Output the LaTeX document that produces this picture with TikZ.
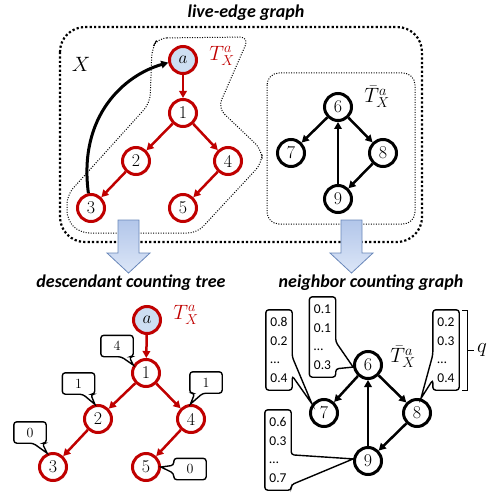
\documentclass[tikz,border=0pt]{standalone}
\usepackage{fontspec}
\newfontfamily\calfont{Carlito}
\usetikzlibrary{arrows.meta,calc,shadows}
\definecolor{myred}{RGB}{192,0,0}
\definecolor{afill}{RGB}{205,222,242}
\definecolor{arrA}{RGB}{178,198,234}
\definecolor{arrB}{RGB}{220,230,247}
\definecolor{arrdraw}{RGB}{105,135,185}
\begin{document}
\begin{tikzpicture}[x=1pt,y=-1pt,
  rnode/.style={circle,draw=myred,line width=3pt,fill=white,minimum size=27pt,inner sep=0pt,
    font=\fontsize{18}{18}\selectfont,
    drop shadow={opacity=0.22,shadow xshift=1.3pt,shadow yshift=-1.3pt}},
  bnode/.style={rnode,draw=black},
  redge/.style={draw=myred,line width=2.5pt,-{Triangle[length=7pt,width=7.5pt]}},
  bedge/.style={draw=black,line width=2.5pt,-{Triangle[length=7pt,width=7.5pt]}},
  titletext/.style={font=\calfont\bfseries\itshape\fontsize{18}{20}\selectfont},
  outerdot/.style={line width=2.2pt,dash pattern=on 2.2pt off 2.2pt},
  innerdot/.style={line width=1pt,dash pattern=on 1pt off 1.5pt},
  blockarrow/.style={draw=arrdraw,line width=0.8pt,top color=arrA,bottom color=arrB},
  cbox/.style={minimum width=32pt,minimum height=21pt,inner sep=0pt,font=\fontsize{14}{14}\selectfont},
  lbox/.style={minimum width=26pt,minimum height=80pt,inner sep=0pt,align=left,
    font=\calfont\fontsize{13.5}{18.5}\selectfont},
  cline/.style={draw=black,line width=1.4pt,rounded corners=3pt},
  lbl/.style={font=\fontsize{22}{22}\selectfont}
]
\useasboundingbox (0,0) rectangle (493,494);

% ---------- top: live-edge graph ----------
\node[titletext] (ttitle) at (246,13) {live-edge graph};
\draw[outerdot,rounded corners=25pt] (60,27) rectangle (422,242);
\draw[innerdot,rounded corners=9pt] (158,38) -- (249,37) -- (218,108) -- (262,150) -- (262,163)
  -- (197,233) -- (80,233) -- (67,220) -- (67,195) -- (150,103) -- (152,48) -- cycle;
\draw[innerdot,rounded corners=12pt] (267,73) rectangle (415,224);
\node[font=\fontsize{22}{22}\selectfont] (xlab) at (81,64) {$X$};

\node[rnode,fill=afill] (ta) at (183,60) {$a$};
\node[rnode] (t1) at (183,113) {1};
\node[rnode] (t2) at (136,161) {2};
\node[rnode] (t4) at (228,161) {4};
\node[rnode] (t3) at (91,208) {3};
\node[rnode] (t5) at (183,208) {5};
\node[lbl,text=myred] (tlab) at (222,56) {$T_X^a$};
\draw[redge] (ta) -- (t1);
\draw[redge] (t1) -- (t2);
\draw[redge] (t1) -- (t4);
\draw[redge] (t2) -- (t3);
\draw[redge] (t4) -- (t5);
\draw[bedge,line width=3pt] (t3.100) .. controls (78,115) and (125,75) .. (ta.190);

\node[bnode] (g6) at (338,107) {6};
\node[bnode] (g7) at (291,153) {7};
\node[bnode] (g8) at (383,153) {8};
\node[bnode] (g9) at (338,199) {9};
\node[lbl] (glab) at (377,97) {$\bar{T}_X^a$};
\draw[bedge] (g6) -- (g7);
\draw[bedge] (g6) -- (g8);
\draw[bedge] (g8) -- (g9);
\draw[bedge] (g9) -- (g6);

% ---------- block arrows ----------
\draw[blockarrow] (118,220) -- (139,220) -- (139,253) -- (150,253) -- (128.5,273) -- (107,253) -- (118,253) -- cycle;
\draw[blockarrow] (341,220) -- (362,220) -- (362,253) -- (373,253) -- (351.5,273) -- (330,253) -- (341,253) -- cycle;

% ---------- bottom left: descendant counting tree ----------
\node[titletext] (dtitle) at (131,283) {descendant counting tree};
\node[rnode,fill=afill] (da) at (147,320) {$a$};
\node[rnode] (d1) at (146,373) {1};
\node[rnode] (d2) at (98,419) {2};
\node[rnode] (d4) at (191,419) {4};
\node[rnode] (d3) at (53,467) {3};
\node[rnode] (d5) at (146,467) {5};
\node[lbl,text=myred] (dlab) at (186,315) {$T_X^a$};
\draw[redge] (da) -- (d1);
\draw[redge] (d1) -- (d2);
\draw[redge] (d1) -- (d4);
\draw[redge] (d2) -- (d3);
\draw[redge] (d4) -- (d5);

\node[cbox] (c1) at (117,346) {4};
\draw[cline] (c1.north west) -- (c1.north east) -- (c1.south east) -- ($(c1.south east)+(-4,0)$)
  [sharp corners] -- (d1.148) [rounded corners=3pt] -- ($(c1.south east)+(-12,0)$) -- (c1.south west) -- cycle;
\node[cbox] (c2) at (78.5,383.5) {1};
\draw[cline] (c2.north west) -- (c2.north east) -- (c2.south east) -- ($(c2.south east)+(-4,0)$)
  [sharp corners] -- (d2.102) [rounded corners=3pt] -- ($(c2.south east)+(-12,0)$) -- (c2.south west) -- cycle;
\node[cbox] (c3) at (206,382.5) {1};
\draw[cline] (c3.north west) -- (c3.north east) -- (c3.south east) -- ($(c3.south west)+(13,0)$)
  [sharp corners] -- (d4.92) [rounded corners=3pt] -- ($(c3.south west)+(5,0)$) -- (c3.south west) -- cycle;
\node[cbox] (c4) at (30,432.5) {0};
\draw[cline] (c4.north west) -- (c4.north east) -- (c4.south east) -- ($(c4.south east)+(-4,0)$)
  [sharp corners] -- (d3.113) [rounded corners=3pt] -- ($(c4.south east)+(-13,0)$) -- (c4.south west) -- cycle;
\node[cbox] (c5) at (190,469) {0};
\draw[cline] (c5.north west) -- (c5.north east) -- (c5.south east) -- (c5.south west) -- ($(c5.north west)+(0,15)$)
  [sharp corners] -- (d5.0) [rounded corners=3pt] -- ($(c5.north west)+(0,7)$) -- cycle;

% ---------- bottom right: neighbor counting graph ----------
\node[titletext] (ntitle) at (371,283) {neighbor counting graph};
\node[bnode] (h6) at (368,365) {6};
\node[bnode] (h7) at (324,413) {7};
\node[bnode] (h8) at (417,413) {8};
\node[bnode] (h9) at (368,461) {9};
\node[lbl] (hlab) at (403,357) {$\bar{T}_X^a$};
\draw[bedge] (h6) -- (h7);
\draw[bedge] (h6) -- (h8);
\draw[bedge] (h8) -- (h9);
\draw[bedge] (h9) -- (h6);

\node[lbox] (b7) at (279,350) {0.8\\0.2\\…\\0.4};
\draw[cline] (b7.north west) -- (b7.north east) -- ($(b7.north east)+(0,47)$)
  [sharp corners] -- (h7.143) [rounded corners=3pt] -- ($(b7.north east)+(0,66)$) -- (b7.south east) -- (b7.south west) -- cycle;
\node[lbox] (b6) at (322.5,337) {0.1\\0.1\\…\\0.3};
\draw[cline] (b6.north west) -- (b6.north east) -- ($(b6.north east)+(0,45)$)
  [sharp corners] -- (h6.188) [rounded corners=3pt] -- ($(b6.north east)+(0,72)$) -- (b6.south east) -- (b6.south west) -- cycle;
\node[lbox] (b8) at (446,350) {0.2\\0.3\\…\\0.4};
\draw[cline] (b8.north east) -- (b8.north west) -- ($(b8.north west)+(0,45)$)
  [sharp corners] -- (h8.75) [rounded corners=3pt] -- ($(b8.north west)+(0,70)$) -- (b8.south west) -- (b8.south east) -- cycle;
\node[lbox] (b9) at (278,450) {0.6\\0.3\\…\\0.7};
\draw[cline] (b9.north west) -- (b9.north east) -- ($(b9.north east)+(0,45)$)
  [sharp corners] -- (h9.172) [rounded corners=3pt] -- ($(b9.north east)+(0,75)$) -- (b9.south east) -- (b9.south west) -- cycle;

\draw[line width=1pt] (462,310) -- (467,310) -- (467,390) -- (462,390);
\node[lbl] (qlab) at (482,350) {$q$};
\draw[line width=1pt] (467,350) -- (qlab.west);
\end{tikzpicture}
\end{document}
